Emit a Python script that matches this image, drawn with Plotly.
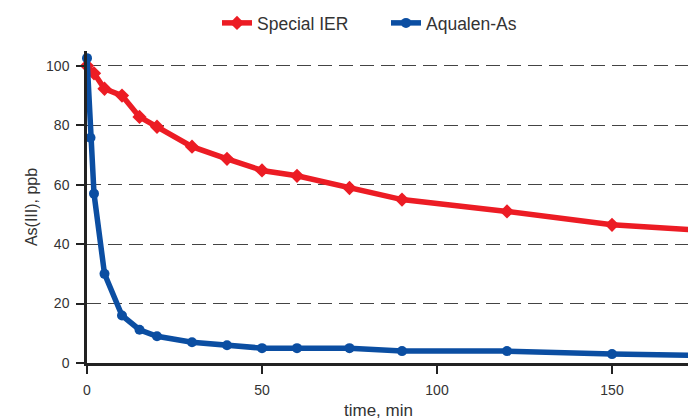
import plotly.graph_objects as go

# Data
time_ier = [0, 2, 5, 10, 15, 20, 30, 40, 50, 60, 75, 90, 120, 150, 180]
as_ier = [100, 97.5, 92.3, 90.0, 82.8, 79.5, 72.8, 68.7, 64.8, 63.0, 58.9, 55.0, 51.0, 46.5, 44.3]

time_aq = [0, 1, 2, 5, 10, 15, 20, 30, 40, 50, 60, 75, 90, 120, 150, 180]
as_aq = [102.6, 75.8, 57.0, 30.0, 16.0, 11.2, 9.0, 7.0, 6.0, 5.0, 5.0, 5.0, 4.0, 4.0, 3.0, 2.5]

x_ticks = [0, 50, 100, 150]
y_ticks = [0, 20, 40, 60, 80, 100]

RED = "#ec1c24"
BLUE = "#0b4ea2"
FONT = "Liberation Sans, Arial, Helvetica, sans-serif"

# page is offset by the 8px body margin
L, T, B = 79, 43, 65
PW = 696 - L
PH = 420 - T - B

fig = go.Figure()
fig.add_trace(go.Scatter(
    x=time_ier, y=as_ier, name="Special IER", mode="lines+markers",
    line=dict(color=RED, width=5.5),
    marker=dict(symbol="diamond", size=11, color=RED),
    cliponaxis=False,
))
fig.add_trace(go.Scatter(
    x=time_aq, y=as_aq, name="Aqualen-As", mode="lines+markers",
    line=dict(color=BLUE, width=5.5),
    marker=dict(symbol="circle", size=10, color=BLUE),
    cliponaxis=False,
))

fig.update_layout(
    width=696, height=420,
    margin=dict(l=L, r=0, t=T, b=B, autoexpand=False),
    paper_bgcolor="white", plot_bgcolor="white",
    font=dict(family=FONT, color="#333333", size=13),
    showlegend=True,
    legend=dict(orientation="h", x=(209 - L) / PW, xanchor="left",
                y=1 - 15 / 420, yanchor="middle", yref="container",
                font=dict(size=17.5, color="#333333"), itemwidth=30,
                entrywidth=124, entrywidthmode="pixels"),
    xaxis=dict(
        range=[0, PW / 3.5], tickvals=x_ticks, ticks="outside", ticklen=8, tickwidth=2,
        tickcolor="#222", showline=True, linecolor="#222", linewidth=2.5,
        showgrid=False, zeroline=False, tickfont=dict(size=14, color="#333"),
        ticklabelstandoff=4, automargin=False,
    ),
    yaxis=dict(
        range=[0, 105], tickvals=y_ticks, ticks="outside", ticklen=8, tickwidth=2,
        tickcolor="#222", showline=True, linecolor="#222", linewidth=2.5,
        showgrid=True, gridcolor="#444", griddash="14px,7px", gridwidth=1.4,
        zeroline=False, tickfont=dict(size=14, color="#333"), automargin=False,
        ticklabelstandoff=4,
        title=dict(text="As(III), ppb", font=dict(size=16, color="#333"), standoff=5),
    ),
    annotations=[dict(text="time, min", x=(370 - L) / PW, xref="paper",
                      y=-(402 - (T + PH)) / PH, yref="paper", yanchor="middle",
                      showarrow=False, font=dict(size=17, color="#333"))],
)

fig.write_html("out.html")
